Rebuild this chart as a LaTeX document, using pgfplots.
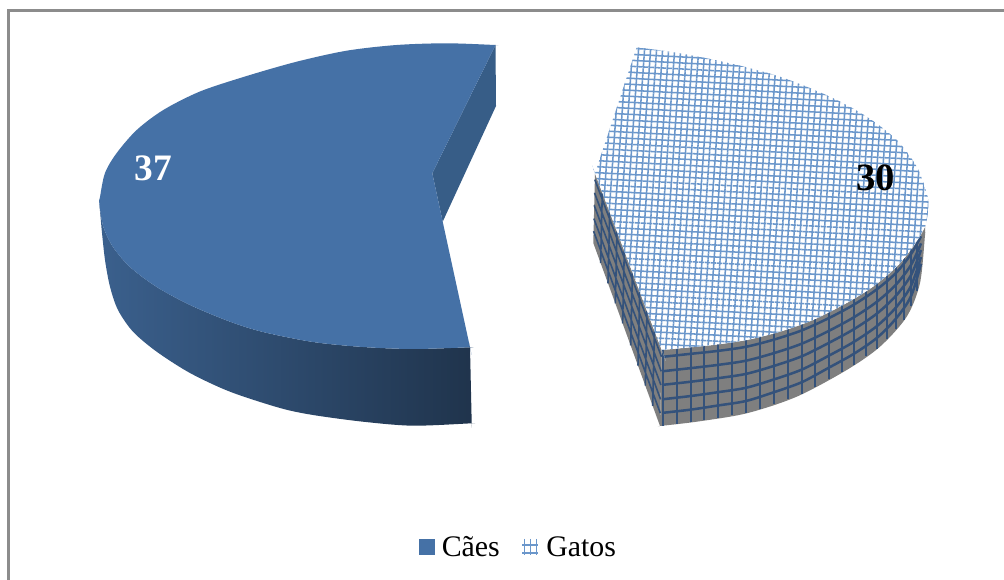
\documentclass[border=0pt]{standalone}
\usepackage{fontspec}
\setmainfont{Liberation Serif}
\usepackage{pgfplots}
\usepackage{pgfplotstable}
\pgfplotsset{compat=1.18}
\usetikzlibrary{patterns.meta}

\definecolor{caesTop}{HTML}{4571A6}
\definecolor{caesIn}{HTML}{375D87}
\definecolor{gridTop}{HTML}{6B97CB}
\definecolor{gridWall}{HTML}{34527B}
\definecolor{wallGrey}{HTML}{7F7F7F}
\definecolor{frameGrey}{HTML}{8C8C8C}

% outlines, in pixels of the reference; a corner is written three times so the smooth path stays sharp there
\pgfplotstableread{
x y
495.5 45
495.5 45
446.7 43.3
396.7 45
346.7 50.7
296.7 61.7
246.7 76
200 91.5
163.3 110
136.7 130
116.7 153
105 173
100 197
99.3 203.3
103.3 226.7
113 247
130 267
156.7 287
190 305
230 321.7
263 332
313 342
363 347
413 349
470 347.3
470 347.3
470 347.3
442.7 221.7
442.7 221.7
442.7 221.7
432.3 173.3
432.3 173.3
}\caesface
\pgfplotstableread{
x y
99.3 203.3
99.3 203.3
103.3 226.7
113 247
130 267
156.7 287
190 305
230 321.7
263 332
313 342
363 347
413 349
470 347.3
470 347.3
470 347.3
471.7 423.3
471.7 423.3
471.7 423.3
413 425.7
363 421.7
313 415
280 408
230 391.7
190 373
156.7 351.7
133 331.7
118 310
110 286.7
105 260
101.7 230
101.7 230
}\caeswall
\pgfplotstableread{
x y
636.7 47.3
636.7 47.3
680 53.3
730 63.3
780 76.7
830 96.7
866.7 116.7
896.7 140
916.7 166.7
926.7 193.3
928.3 206.7
925 226.7
913 246.7
896.7 266.7
873 286.7
846.7 303
813 320
780 331.7
746.7 340
713 345
680 348.3
661.7 350
661.7 350
661.7 350
595 173.3
595 173.3
}\gatosface
\pgfplotstableread{
x y
661.7 350
661.7 350
680 348.3
713 345
746.7 340
780 331.7
813 320
846.7 303
873 286.7
896.7 266.7
913 246.7
925 226.7
925 226.7
925 226.7
925 235
925 235
925 235
920 283
906.7 316.7
880 346.7
846.7 370
796.7 396.7
746.7 413.3
696.7 421.7
660 426
660 426
}\gatoswall

\begin{document}
\begin{tikzpicture}
\begin{axis}[
  x=0.75pt, y=0.75pt, y dir=reverse,
  xmin=0, xmax=1004, ymin=0, ymax=580,
  axis lines=none, clip=true,
  unbounded coords=jump
]
  % page background keeps the picture at full size
  \addplot[draw=none, fill=white] coordinates {(0,0) (1004,0) (1004,580) (0,580)} -- cycle;
  % frame
  \addplot[frameGrey, line width=1.8pt] coordinates {(8.5,580) (8.5,10.5) (1004,10.5)};

  % Caes
  \addplot[smooth, tension=0.5, draw=none, left color=caesTop!85!black, middle color=caesTop!50!black!85, right color=caesTop!45!black] table {\caeswall} -- cycle;
  \addplot[draw=none, fill=caesIn] coordinates {(432.3,173.3) (495.5,45) (496,106) (442.7,221.7)} -- cycle;
  \addplot[smooth, tension=0.5, draw=none, fill=caesTop] table {\caesface} -- cycle;

  % Gatos: side walls
  \addplot[draw=none, fill=wallGrey] coordinates {(595,173.3) (661.7,350) (660,426) (593.3,243)} -- cycle;
  \addplot[smooth, tension=0.5, draw=none, fill=wallGrey] table {\gatoswall} -- cycle;
  \addplot[gridWall, line width=1.2pt] coordinates {
    (594.8,179.6) (661.5,356.8) (nan,nan)
    (594.5,192.8) (661.2,371.3) (nan,nan)
    (594.2,205.4) (660.9,385) (nan,nan)
    (593.9,218.6) (660.6,399.4) (nan,nan)
    (593.6,231.2) (660.3,413.1) (nan,nan)
    (602.3,192.7) (600.6,263.1) (nan,nan)
    (609.7,212.2) (608,283.3) (nan,nan)
    (617,231.6) (615.3,303.4) (nan,nan)
    (624.3,251) (622.6,323.5) (nan,nan)
    (632.4,272.3) (630.7,345.5) (nan,nan)
    (639.7,291.7) (638,365.6) (nan,nan)
    (647,311.1) (645.3,385.7) (nan,nan)
    (654.4,330.6) (652.7,405.9)
  };
  \addplot[smooth, tension=0.5, gridWall, line width=1.9pt] coordinates {
    (663,356.8) (691,353.8) (718,350.9) (746,346.8) (774,339.6) (802,330.3) (829,318) (854,304.6) (877,289.2) (896,272.9) (911,254.1) (921,236.3)
  };
  \addplot[smooth, tension=0.5, gridWall, line width=1.9pt] coordinates {
    (663,371.2) (691,368.1) (718,364.9) (746,360.7) (774,353.1) (802,343.6) (829,330.8) (854,317.2) (877,301.7) (896,284.6) (911,265) (921,243.4)
  };
  \addplot[smooth, tension=0.5, gridWall, line width=1.9pt] coordinates {
    (663,384.8) (691,381.7) (718,378.2) (746,373.9) (774,365.9) (802,356.2) (829,342.8) (854,329.1) (877,313.5) (896,295.7) (911,275.2) (921,250)
  };
  \addplot[smooth, tension=0.5, gridWall, line width=1.9pt] coordinates {
    (663,399.2) (691,396) (718,392.2) (746,387.8) (774,379.4) (802,369.5) (829,355.6) (854,341.8) (877,326) (896,307.4) (911,286) (921,257)
  };
  \addplot[smooth, tension=0.5, gridWall, line width=1.9pt] coordinates {
    (663,412.8) (691,409.6) (718,405.5) (746,401) (774,392.2) (802,382.1) (829,367.6) (854,353.7) (877,337.8) (896,318.5) (911,296.3) (921,263.7)
  };
  \addplot[gridWall, line width=1.9pt] coordinates {
    (663,350) (663,425.7) (nan,nan)
    (677,348.6) (677,424) (nan,nan)
    (691,347) (691,422.4) (nan,nan)
    (704,346) (704,420.5) (nan,nan)
    (718,344.3) (718,418) (nan,nan)
    (732,342.2) (732,415.5) (nan,nan)
    (746,340.2) (746,413.4) (nan,nan)
    (760,336.7) (760,409) (nan,nan)
    (774,333.2) (774,404.3) (nan,nan)
    (788,329) (788,399.5) (nan,nan)
    (802,324) (802,394) (nan,nan)
    (815,319) (815,387) (nan,nan)
    (829,312) (829,379) (nan,nan)
    (842,305.5) (842,372.5) (nan,nan)
    (854,298.6) (854,365) (nan,nan)
    (866,291) (866,356.5) (nan,nan)
    (877,283.3) (877,349) (nan,nan)
    (887,275) (887,339) (nan,nan)
    (896,267.4) (896,329) (nan,nan)
    (904,258) (904,320) (nan,nan)
    (911,249) (911,306) (nan,nan)
    (917,240) (917,291)
  };

  % Gatos: top face
  \addplot[smooth, tension=0.5, draw=none, fill=white] table {\gatosface} -- cycle;
  \addplot[smooth, tension=0.5, draw=none, pattern={Lines[angle=-3,distance=4.5pt,line width=1.15pt]}, pattern color=gridTop] table {\gatosface} -- cycle;
  \addplot[smooth, tension=0.5, draw=none, pattern={Lines[angle=86,distance=4.5pt,line width=1.15pt]}, pattern color=gridTop] table {\gatosface} -- cycle;

  % data labels
  \node[white, font=\fontsize{28}{28}\selectfont\bfseries] at (axis cs:153,168) {37};
  \node[black, font=\fontsize{29}{29}\selectfont\bfseries] at (axis cs:875.5,178) {30};

  % legend
  \addplot[draw=none, fill=caesTop] coordinates {(419,539) (435,539) (435,555) (419,555)} -- cycle;
  \addplot[gridTop, line width=1pt] coordinates {
    (524.5,539) (524.5,555) (nan,nan)
    (530.5,539) (530.5,555) (nan,nan)
    (536.5,539) (536.5,555) (nan,nan)
    (522,545) (538,545) (nan,nan)
    (522,553) (538,553)
  };
  \node[anchor=base west, inner sep=0pt, font=\fontsize{22.4}{22.4}\selectfont] at (axis cs:441.5,556.5) {Cães};
  \node[anchor=base west, inner sep=0pt, font=\fontsize{22.4}{22.4}\selectfont] at (axis cs:546,556.5) {Gatos};
\end{axis}
\end{tikzpicture}
\end{document}
